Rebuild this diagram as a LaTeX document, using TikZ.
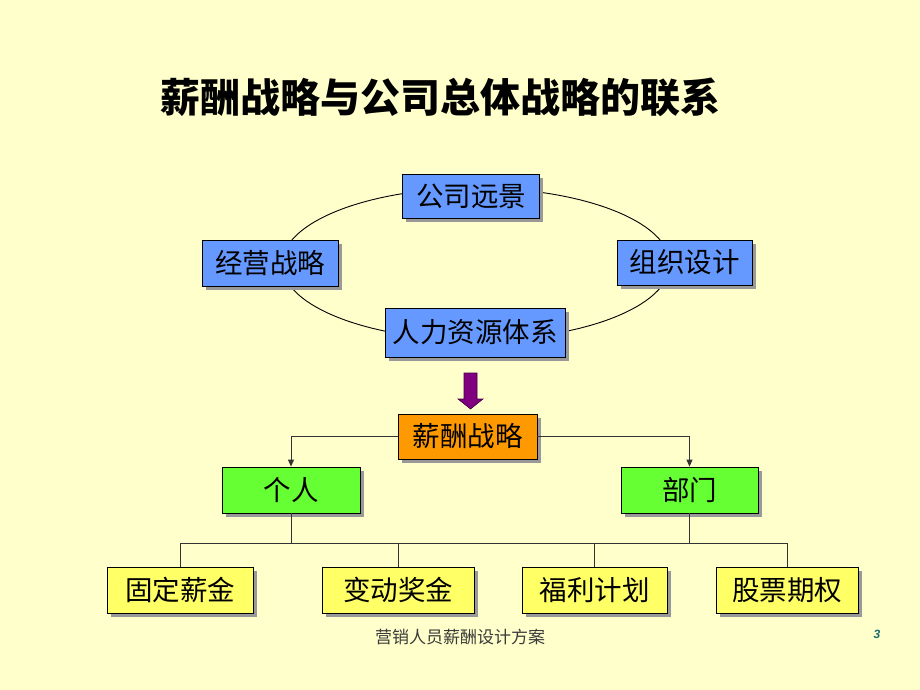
\documentclass[tikz,border=0pt]{standalone}
\usepackage{fontspec}
\newfontfamily\cjk{Noto Sans CJK SC}
\newfontfamily\numfont{Liberation Sans}
\usetikzlibrary{shadows,arrows.meta}
\definecolor{bg}{HTML}{FFFFCC}
\definecolor{bluebox}{HTML}{6699FF}
\definecolor{orangebox}{HTML}{FF9900}
\definecolor{greenbox}{HTML}{66FF33}
\definecolor{yellowbox}{HTML}{FFFF66}
\definecolor{arrowpurple}{HTML}{800080}
\definecolor{linegray}{HTML}{333333}
\definecolor{footgray}{HTML}{3A3A3A}
\definecolor{pagenum}{HTML}{1A6B6B}
\tikzset{
  box/.style={draw=black, line width=0.8pt, inner sep=0pt, font=\cjk\fontsize{27.5}{30}\selectfont,
    minimum height=46pt,
    drop shadow={shadow xshift=3.5pt, shadow yshift=-3.5pt, fill=black!40, opacity=1}},
  tree/.style={draw=linegray, line width=0.9pt},
  treearrow/.style={tree, -{Triangle[length=7pt,width=6pt]}}
}
\begin{document}
\begin{tikzpicture}[x=1pt,y=-1pt]
\fill[bg] (0,0) rectangle (920,690);
\useasboundingbox (0,0) rectangle (920,690);

\node (title) at (440,97) {\cjk\bfseries\fontsize{40}{44}\selectfont 薪酬战略与公司总体战略的联系};

\coordinate (ec) at (476,264);
\draw[black, line width=0.9pt] (ec) ellipse [x radius=194, y radius=76];

\node[box, fill=bluebox, minimum width=137pt, minimum height=44pt] (vision) at (471,196) {公司远景};
\node[box, fill=bluebox, minimum width=136pt] (jy) at (270,263) {经营战略};
\node[box, fill=bluebox, minimum width=135pt, minimum height=45pt] (zz) at (684.5,262.5) {组织设计};
\node[box, fill=bluebox, minimum width=180pt, minimum height=49pt] (hr) at (475,332.5) {人力资源体系};

\node[box, fill=orangebox, minimum width=139pt, minimum height=45pt] (xc) at (467.5,436.5) {薪酬战略};

% block arrow from hr to xc
\coordinate (atop) at (470.5,373);
\coordinate (atip) at (470.5,409);
\fill[arrowpurple, draw=black!50!arrowpurple, line width=0.6pt]
  ([xshift=-6.5pt]atop) -- ([xshift=6.5pt]atop) -- ([xshift=6.5pt,yshift=10pt]atip)
  -- ([xshift=12.5pt,yshift=10pt]atip) -- (atip) -- ([xshift=-12.5pt,yshift=10pt]atip)
  -- ([xshift=-6.5pt,yshift=10pt]atip) -- cycle;

\node[box, fill=greenbox, minimum width=138pt] (geren) at (291,490) {个人};
\node[box, fill=greenbox, minimum width=137pt] (bumen) at (689.5,490) {部门};

\draw[treearrow] (xc.west) -| (geren.north);
\draw[treearrow] (xc.east) -| (bumen.north);

\node[box, fill=yellowbox, minimum width=146pt] (gd) at (180,590) {固定薪金};
\node[box, fill=yellowbox, minimum width=152pt] (bd) at (398,590) {变动奖金};
\node[box, fill=yellowbox, minimum width=145pt] (fl) at (594.5,590) {福利计划};
\node[box, fill=yellowbox, minimum width=142pt] (gp) at (787,590) {股票期权};

\coordinate (bus) at (0,543);
\draw[tree] (geren.south) -- (geren.south |- bus);
\draw[tree] (bumen.south) -- (bumen.south |- bus);
\draw[tree] (gd.north) -- (gd.north |- bus) -- (gp.north |- bus) -- (gp.north);
\draw[tree] (bd.north) -- (bd.north |- bus);
\draw[tree] (fl.north) -- (fl.north |- bus);

\node[text=footgray, font=\cjk\fontsize{17}{20}\selectfont] (foot) at (460,637) {营销人员薪酬设计方案};
\node[text=pagenum, font=\numfont\bfseries\itshape\fontsize{12}{14}\selectfont] (pg) at (877,634) {3};
\end{tikzpicture}
\end{document}
